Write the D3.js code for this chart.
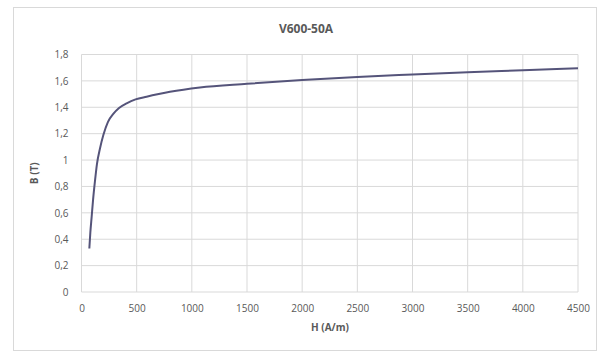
<!DOCTYPE html>
<html>
<head>
<meta charset="utf-8">
<script src="https://cdn.jsdelivr.net/npm/d3@7"></script>
<style>
  body { margin: 0; background: #fff; }
  svg { display: block; }
</style>
</head>
<body>
<svg id="canvas" width="606" height="356"></svg>
<script>
// B-H magnetisation curve
const hValues = [71, 80, 92, 105, 122, 140, 168, 198, 240, 288, 340, 409, 490, 590, 700, 802, 1073, 1500, 2000, 2500, 3000, 3500, 4000, 4500];
const bValues = [0.33, 0.45, 0.57, 0.70, 0.84, 0.97, 1.09, 1.19, 1.29, 1.35, 1.395, 1.43, 1.46, 1.48, 1.50, 1.517, 1.55, 1.578, 1.607, 1.63, 1.648, 1.665, 1.68, 1.695];
const xTicks = [0, 500, 1000, 1500, 2000, 2500, 3000, 3500, 4000, 4500];
const yTicks = [0, 0.2, 0.4, 0.6, 0.8, 1, 1.2, 1.4, 1.6, 1.8];

const settings = {
  padding: { left: 81.5, top: 54.5, right: 28, bottom: 64 },
  width: 606,
  height: 356,
};

function graph() {
  const svg = d3.select('#canvas');
  const p = settings.padding;
  const font = "'Open Sans', 'Liberation Sans', sans-serif";

  // chart frame
  svg.append("rect")
    .attr("x", 13.5).attr("y", 7.5)
    .attr("width", 583).attr("height", 343)
    .attr("fill", "#fff")
    .attr("stroke", "#d9d9d9");

  const x = d3.scaleLinear()
    .domain([0, 4500])
    .range([p.left, settings.width - p.right]);

  const y = d3.scaleLinear()
    .domain([0, 1.8])
    .range([settings.height - p.bottom, p.top]);

  // gridlines
  svg.append("g")
    .attr("class", "xgrid")
    .selectAll("line")
    .data(xTicks)
    .join("line")
    .attr("x1", d => x(d)).attr("x2", d => x(d))
    .attr("y1", y(0)).attr("y2", y(1.8))
    .attr("stroke", "#d9d9d9");

  svg.append("g")
    .attr("class", "ygrid")
    .selectAll("line")
    .data(yTicks)
    .join("line")
    .attr("x1", x(0)).attr("x2", x(4500))
    .attr("y1", d => y(d)).attr("y2", d => y(d))
    .attr("stroke", "#d9d9d9");

  const fmt = d => String(+d.toFixed(1)).replace(".", ",");

  const xAxis = svg.append("g")
    .attr("transform", `translate(0,${y(0)})`)
    .call(d3.axisBottom(x).tickValues(xTicks).tickSize(0).tickPadding(13).tickFormat(d3.format("d")));
  xAxis.select(".domain").remove();

  const yAxis = svg.append("g")
    .attr("transform", `translate(${x(0)},0)`)
    .call(d3.axisLeft(y).tickValues(yTicks).tickSize(0).tickPadding(13).tickFormat(fmt));
  yAxis.select(".domain").remove();

  svg.selectAll(".tick text")
    .attr("font-family", font)
    .attr("font-size", "10px")
    .attr("fill", "#595959");

  // curve
  const line = d3.line()
    .x((d, i) => x(hValues[i]))
    .y(d => y(d))
    .curve(d3.curveMonotoneX);

  svg.append("path")
    .attr("d", line(bValues))
    .attr("fill", "none")
    .attr("stroke", "#55547a")
    .attr("stroke-width", 2);

  // titles
  svg.append("text")
    .attr("x", 306).attr("y", 33)
    .attr("text-anchor", "middle")
    .attr("font-family", font)
    .attr("font-size", "12px")
    .attr("font-weight", "bold")
    .attr("fill", "#595959")
    .text("V600-50A");

  svg.append("text")
    .attr("x", 330).attr("y", 331)
    .attr("text-anchor", "middle")
    .attr("font-family", font)
    .attr("font-size", "10px")
    .attr("font-weight", "bold")
    .attr("fill", "#595959")
    .text("H (A/m)");

  svg.append("text")
    .attr("transform", `translate(38,${(y(0) + y(1.8)) / 2}) rotate(-90)`)
    .attr("text-anchor", "middle")
    .attr("font-family", font)
    .attr("font-size", "10px")
    .attr("font-weight", "bold")
    .attr("fill", "#595959")
    .text("B (T)");
}

graph();
</script>
</body>
</html>
